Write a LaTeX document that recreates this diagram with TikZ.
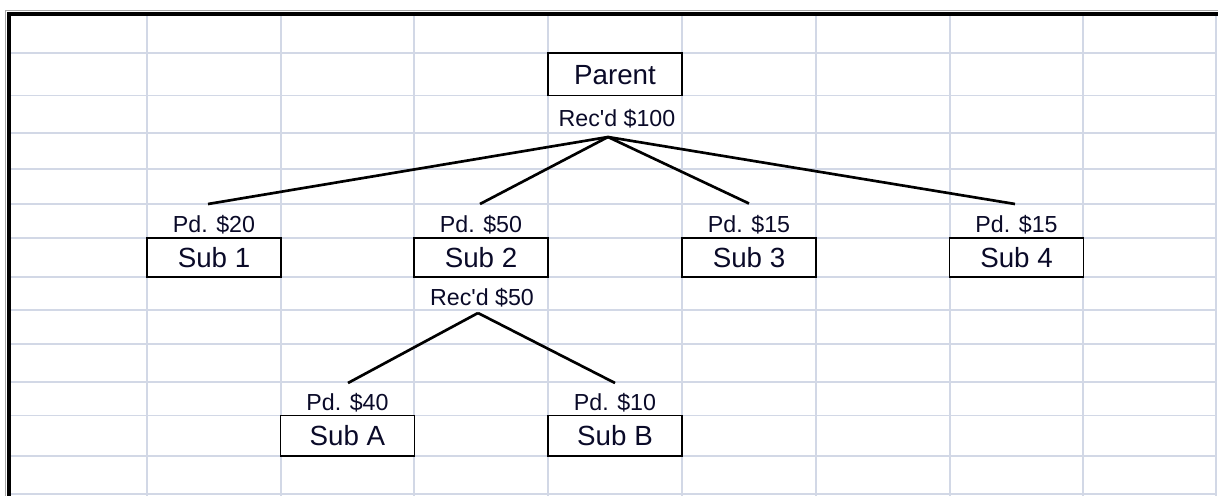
\documentclass[tikz,border=0pt]{standalone}
\usepackage{fontspec}
\setmainfont{Liberation Sans}
\newfontfamily\plainfont{Liberation Sans}
\definecolor{gridc}{RGB}{210,216,230}
\definecolor{txt}{RGB}{10,10,40}
\begin{document}
\begin{tikzpicture}[x=0.75pt,y=-0.75pt,
  gridline/.style={draw=gridc, line width=1.1pt},
  box/.style={draw=black, line width=1.1pt, fill=white, rectangle, inner sep=0pt,
    minimum width=100.5pt, minimum height=#1*0.75pt, text height=14.8pt, text depth=0pt,
    text=txt, font=\plainfont\fontsize{20.8}{21}\selectfont},
  lbl/.style={anchor=base, inner sep=0pt, text=txt, font=\plainfont\fontsize{17.4}{18}\selectfont},
  conn/.style={draw=black, line width=2pt}]
\useasboundingbox (0,0) rectangle (1218,496);
\fill[white] (0,0) rectangle (1218,496);
% grid
\foreach \gx in {147,281,414,548,682,816,950,1083,1216}
  \draw[gridline] (\gx,14) -- (\gx,496);
\foreach \gy in {53,95.5,133,169,204,238,277,310,344,382,415.5,456,494}
  \draw[gridline] (9,\gy) -- (1216,\gy);
% sheet border
\draw[black!35, line width=1.2pt] (5.5,496) -- (5.5,10.5) -- (1218,10.5);
\draw[black, line width=3.4pt] (9,496) -- (9,14) -- (1218,14);
% boxes
\node[box=42.5] (parent) at (615,74.25) {Parent};
\node[box=39] (s1) at (214,257.5) {Sub 1};
\node[box=39] (s2) at (481,257.5) {Sub 2};
\node[box=39] (s3) at (749,257.5) {Sub 3};
\node[box=39] (s4) at (1016.5,257.5) {Sub 4};
\node[box=40.5] (sa) at (347.5,435.75) {Sub A};
\node[box=40.5] (sb) at (615,435.75) {Sub B};
% labels
\node[lbl] (r0) at (617,126.5) {Rec'd \$100};
\node[lbl] (p1) at (214,232) {Pd. \$20};
\node[lbl] (p2) at (481,232) {Pd. \$50};
\node[lbl] (p3) at (749,232) {Pd. \$15};
\node[lbl] (p4) at (1016.5,232) {Pd. \$15};
\node[lbl] (r2) at (482,305) {Rec'd \$50};
\node[lbl] (pa) at (347.5,410) {Pd. \$40};
\node[lbl] (pb) at (615,410) {Pd. \$10};
% connector points
\coordinate (top) at (608,137);
\coordinate (e1) at (208,204);
\coordinate (e2) at (480,204);
\coordinate (e3) at (749,203.5);
\coordinate (e4) at (1015,204);
\coordinate (mid) at (478,313);
\coordinate (ea) at (348,383);
\coordinate (eb) at (615,383);
\draw[conn] (top) -- (e1);
\draw[conn] (top) -- (e2);
\draw[conn] (top) -- (e3);
\draw[conn] (top) -- (e4);
\draw[conn] (mid) -- (ea);
\draw[conn] (mid) -- (eb);
\end{tikzpicture}
\end{document}
